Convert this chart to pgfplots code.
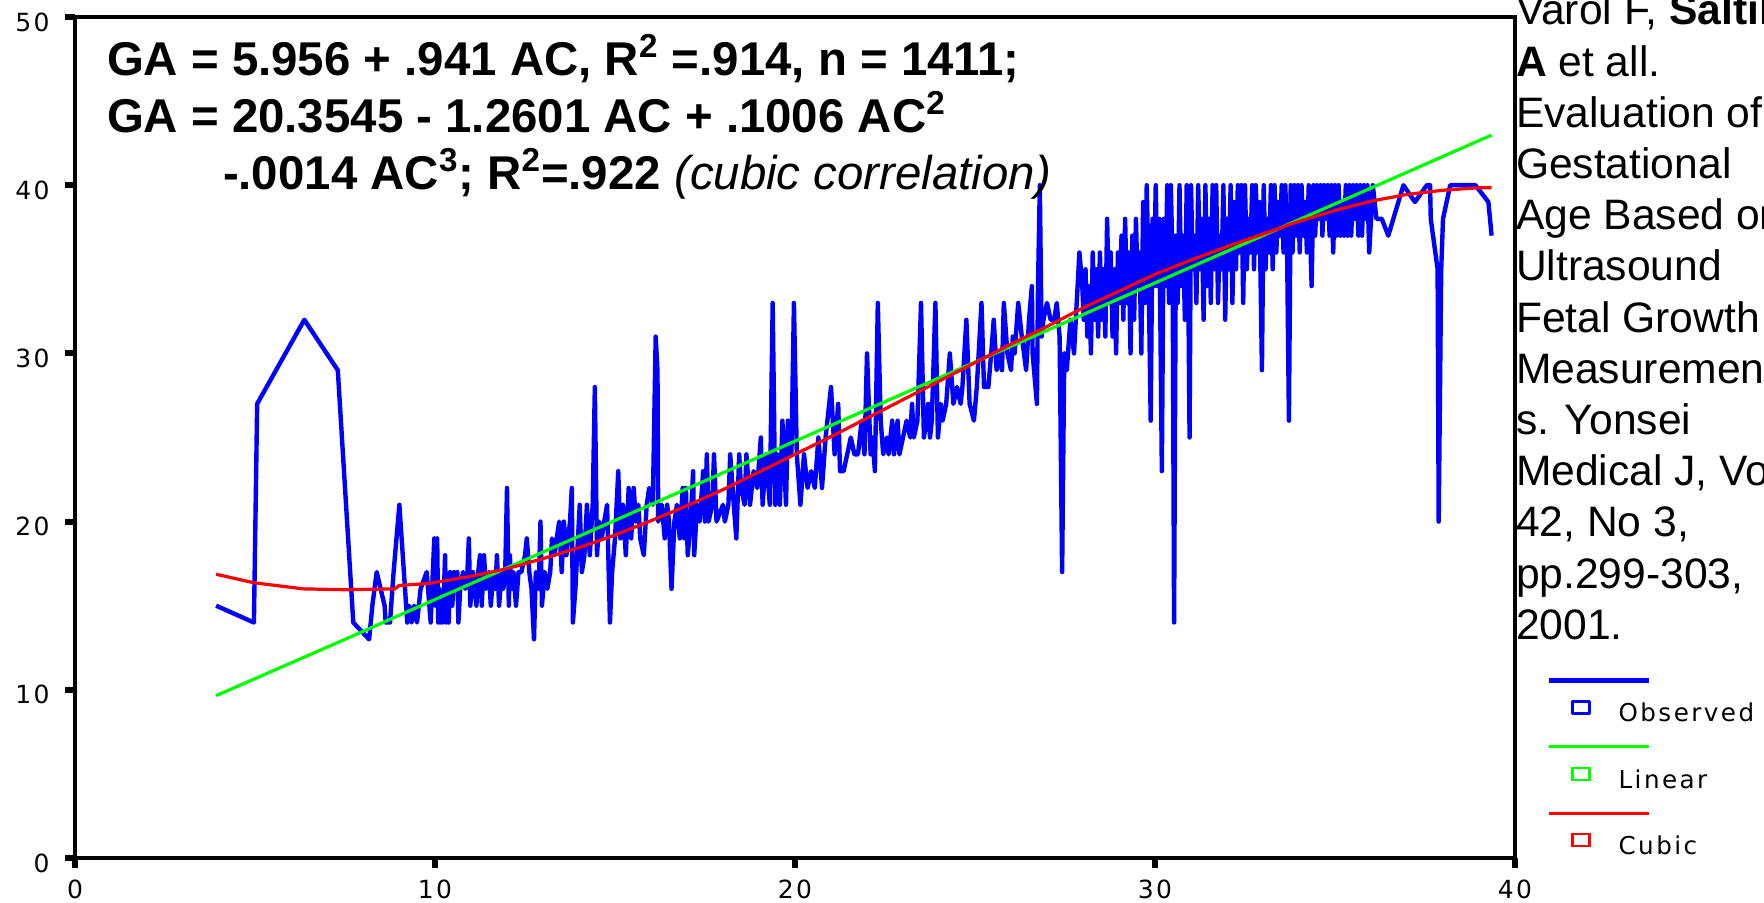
\documentclass[border=0pt]{standalone}
\usepackage{fontspec}
\setmainfont{Liberation Sans}
\newfontfamily\tickfont[LetterSpace=10]{DejaVu Sans}
\usepackage{pgfplots}
\pgfplotsset{compat=1.18}
\definecolor{obsblue}{RGB}{0,0,255}
\definecolor{lingreen}{RGB}{0,255,0}
\definecolor{cubred}{RGB}{255,0,0}
\begin{document}
\begin{tikzpicture}
\begin{axis}[
  name=ax, anchor=south west, at={(0pt,0pt)},
  scale only axis, width=720pt, height=420.5pt,
  xmin=0, xmax=40, ymin=0, ymax=50,
  xtick={0,10,20,30,40}, ytick={0,10,20,30,40,50},
  xtick pos=lower, ytick pos=left,
  axis line style={line width=1.6pt},
  tick align=outside, major tick length=5pt,
  tick style={line width=3pt, black},
  ticklabel style={font=\tickfont\fontsize{12.5}{13}\selectfont, inner sep=0pt},
  yticklabel style={yshift=-2.5pt, xshift=-7.5pt},
  xticklabel style={yshift=-6pt},
  /pgf/number format/assume math mode=true,
  legend cell align=left,
  legend style={at={(1.02361,0.2113)}, anchor=north west, draw=none, fill=none,
    inner sep=0pt, row sep=0pt, column sep=12pt,
    font=\tickfont\fontsize{12.3}{13}\selectfont},
  legend image code/.code={
    \draw[#1,overlay] (0pt,16.75pt) -- (50pt,16.75pt);
    \draw[#1,line width=1.2pt] (11.5pt,0.25pt) rectangle (20pt,6.25pt);
    \path[draw=none,fill=none] (0pt,-16.6pt) rectangle (20pt,16.6pt);
  },
]
\addplot[obsblue, line width=2.2pt, line join=round] coordinates {
(3.92,15) (4.97,14) (5.06,27) (6.37,32) (7.3,29) (7.73,14) (8.17,13) (8.26,15) (8.38,17) (8.6,15) (8.63,14) (8.75,14) (8.85,17) (9.01,21) (9.23,14) (9.28,15) (9.35,14) (9.42,15) (9.5,14) (9.6,16) (9.77,17) (9.88,14) (9.98,19)
(10.02,15) (10.06,19) (10.09,14) (10.12,16) (10.15,14) (10.18,15) (10.21,14) (10.25,16) (10.28,18) (10.31,14) (10.34,16) (10.38,14) (10.42,17) (10.48,15) (10.53,17) (10.58,16) (10.62,17) (10.65,14) (10.7,16) (10.78,17) (10.84,16) (10.9,17) (10.94,19) (10.98,15) (11.05,17) (11.1,16) (11.15,15) (11.2,17) (11.25,18) (11.3,15) (11.36,18) (11.42,16) (11.5,17) (11.55,15) (11.62,17) (11.68,16) (11.72,18) (11.78,15) (11.85,17) (11.9,16) (11.95,17) (12.0,22) (12.05,15) (12.08,18) (12.12,16) (12.18,17) (12.25,15) (12.32,17) (12.4,17) (12.5,18) (12.55,19) (12.62,17) (12.68,16) (12.75,13) (12.8,17) (12.88,16) (12.93,20) (12.97,15) (13.05,17) (13.12,16) (13.2,17) (13.25,19) (13.32,18) (13.38,19) (13.45,20) (13.52,17) (13.58,20) (13.65,18) (13.75,20) (13.8,22) (13.83,14) (13.9,16) (14.02,21) (14.08,17) (14.15,18) (14.22,21) (14.3,18) (14.38,21) (14.44,28) (14.5,18) (14.56,20) (14.63,19) (14.7,20) (14.78,21) (14.86,14) (14.92,17) (15.0,19) (15.09,23) (15.15,19) (15.22,21) (15.3,18) (15.38,22) (15.45,19) (15.52,22) (15.58,20) (15.65,21) (15.7,19) (15.8,18) (15.88,21) (15.95,22) (16.05,21) (16.13,31) (16.18,29)
(16.2,20) (16.3,21) (16.38,19) (16.45,21) (16.5,20) (16.57,16) (16.65,20) (16.72,21) (16.8,19) (16.88,22) (16.92,19) (16.97,22) (17.02,18) (17.1,20) (17.17,23) (17.2,18) (17.28,21) (17.35,20) (17.45,23) (17.5,20) (17.55,24) (17.6,20) (17.7,21) (17.75,24) (17.82,20) (18.0,21) (18.05,20) (18.15,21) (18.2,24) (18.3,21) (18.37,19) (18.45,24) (18.5,22) (18.6,21) (18.65,24) (18.75,21) (18.85,23) (18.95,22) (19.05,25) (19.1,21) (19.2,24) (19.3,21) (19.38,33) (19.45,21) (19.5,24) (19.58,21) (19.65,26) (19.75,21) (19.8,26) (19.9,24) (19.97,33) (20.05,24) (20.15,21) (20.25,24) (20.35,22) (20.45,23) (20.55,22) (20.65,25) (20.75,22) (20.85,25) (21.0,28) (21.1,24) (21.2,27) (21.25,23) (21.35,23) (21.45,24) (21.55,25) (21.65,24) (21.75,24) (21.85,26) (21.93,24) (22.0,30) (22.1,24) (22.15,25) (22.22,23) (22.3,33) (22.38,26)
(22.45,24) (22.55,25) (22.6,24) (22.7,26) (22.75,24) (22.85,26) (22.9,24) (23.0,25) (23.1,26) (23.2,25) (23.25,27) (23.3,25) (23.4,26) (23.5,33) (23.58,25) (23.65,26) (23.7,27) (23.75,25) (23.8,26) (23.9,33) (23.97,25) (24.05,27) (24.1,26) (24.2,27) (24.3,30) (24.4,27) (24.5,28) (24.6,27) (24.65,28) (24.76,32) (24.85,27) (24.97,26) (25.05,28) (25.18,33) (25.25,28) (25.37,28) (25.45,30) (25.52,32) (25.6,29) (25.7,30) (25.75,29) (25.8,33) (25.9,30) (26.0,29) (26.05,31) (26.1,30) (26.2,33) (26.3,31) (26.42,29) (26.5,32) (26.58,34) (26.6,30) (26.72,27) (26.75,34) (26.8,40) (26.85,31) (26.9,32) (27.0,33) (27.1,32) (27.2,32) (27.27,33) (27.35,31) (27.42,17) (27.48,30) (27.55,29) (27.65,32) (27.75,30) (27.9,36) (27.98,34)
(28.02,32) (28.07,35) (28.12,31) (28.17,34) (28.22,30) (28.27,36) (28.32,32) (28.37,35) (28.42,31) (28.47,36) (28.52,32) (28.57,35) (28.62,31) (28.67,38) (28.72,33) (28.77,36) (28.82,31) (28.87,35) (28.92,30) (28.97,36)
(29.02,33) (29.07,37) (29.12,32) (29.17,38) (29.22,33) (29.27,36) (29.32,30) (29.37,37) (29.42,32) (29.47,38) (29.52,34) (29.57,36) (29.62,30) (29.67,39) (29.72,33) (29.77,40) (29.82,35) (29.88,26) (29.93,38) (29.97,34)
(30.02,40) (30.07,34) (30.12,38) (30.19,23) (30.24,38) (30.29,34) (30.34,40) (30.39,33) (30.44,40) (30.49,35) (30.53,14) (30.58,37) (30.63,33) (30.68,40) (30.73,34) (30.78,37) (30.83,32) (30.88,40) (30.92,35) (30.96,25)
(31.0,40) (31.05,35) (31.1,37) (31.15,33) (31.2,40) (31.25,35) (31.3,38) (31.35,32) (31.4,40) (31.45,34) (31.5,38) (31.55,33) (31.6,40) (31.65,35) (31.7,40) (31.75,33) (31.8,37) (31.85,35) (31.9,40) (31.95,32)
(32.0,38) (32.05,35) (32.1,40) (32.15,33) (32.2,39) (32.25,35) (32.3,40) (32.35,36) (32.4,40) (32.45,33) (32.5,40) (32.55,35) (32.6,38) (32.65,36) (32.7,40) (32.75,35) (32.8,40) (32.85,36) (32.9,39) (32.97,29)
(33.02,40) (33.07,35) (33.12,38) (33.17,36) (33.22,40) (33.27,35) (33.32,40) (33.37,36) (33.42,39) (33.47,37) (33.52,40) (33.57,36) (33.62,40) (33.67,36) (33.72,26) (33.77,40)
(33.82,36) (33.87,40) (33.92,37) (33.97,40) (34.02,36) (34.07,40) (34.12,37) (34.17,39) (34.22,36) (34.27,40) (34.35,34) (34.4,40) (34.45,37) (34.5,40) (34.55,38) (34.6,40) (34.65,37) (34.7,40) (34.75,38) (34.8,40) (34.85,37) (34.9,40) (34.95,36) (35.0,40) (35.05,37) (35.1,40) (35.15,37) (35.2,39) (35.25,37) (35.3,40) (35.35,37) (35.4,40) (35.45,37) (35.5,40) (35.55,38) (35.6,40) (35.65,37) (35.7,40) (35.75,37) (35.8,40) (35.85,38) (35.9,40) (35.95,36) (36.05,40) (36.15,38) (36.3,38) (36.48,37) (36.9,40) (37.22,39) (37.55,40) (37.64,40) (37.66,38) (37.85,35) (37.88,20) (37.95,35) (38.0,38) (38.2,40) (38.9,40) (39.26,39) (39.35,37)
};
\addlegendentry{Observed}
\addplot[lingreen, line width=1.6pt] coordinates {
(3.92,9.65) (5.0,10.66) (7.5,13.0) (10.0,15.37) (15.0,20.07) (20.0,24.78) (25.0,29.48) (30.0,34.19) (35.0,38.89) (39.35,42.98)
};
\addlegendentry{Linear}
\addplot[cubred, line width=1.6pt] coordinates {
(3.92,16.87) (4.95,16.37) (6.34,16.0) (7.5,15.95) (8.89,16.0) (9.0,16.2) (9.86,16.33) (11,16.75) (12,17.2) (13,17.8) (14,18.45) (15,19.2) (16,20.05) (17,20.95) (18,21.9) (19,22.95) (20,24.0) (21,25.05) (22,26.15) (23,27.25) (24,28.35) (25,29.45) (26,30.55) (27,31.6) (28,32.7) (29,33.7) (30,34.7) (31,35.55) (32,36.35) (33,37.1) (34,37.85) (35,38.5) (36,39.05) (37,39.45) (38,39.7) (39,39.85) (39.35,39.85)
};
\addlegendentry{Cubic}
\end{axis}
\begin{scope}[every node/.style={inner sep=0pt, outer sep=0pt}]
\node[anchor=base west, font=\fontsize{23.7}{28}\selectfont\bfseries] at (16pt,391pt) {GA = 5.956 + .941 AC, R\textsuperscript{2} =.914, n = 1411;};
\node[anchor=base west, font=\fontsize{23.7}{28}\selectfont\bfseries] at (16pt,362.5pt) {GA = 20.3545 - 1.2601 AC + .1006 AC\textsuperscript{2}};
\node[anchor=base west, font=\fontsize{23.7}{28}\selectfont] at (74pt,334pt) {\textbf{-.0014 AC\textsuperscript{3}; R\textsuperscript{2}=.922} \textit{(cubic correlation)}};
\end{scope}
\begin{scope}[every node/.style={inner sep=0pt, outer sep=0pt, anchor=base west, font=\fontsize{21.3}{24}\selectfont}]
\node at (720.5pt,416.5pt) {Varol F, \textbf{Saltik}};
\node at (720.5pt,390.9pt) {\textbf{A} et all.};
\node at (720.5pt,365.3pt) {Evaluation of};
\node at (720.5pt,339.7pt) {Gestational};
\node at (720.5pt,314.1pt) {Age Based on};
\node at (720.5pt,288.5pt) {Ultrasound};
\node at (720.5pt,262.9pt) {Fetal Growth};
\node at (720.5pt,237.3pt) {Measurement};
\node at (720.5pt,211.7pt) {s. Yonsei};
\node at (720.5pt,186.1pt) {Medical J, Vol};
\node at (720.5pt,160.5pt) {42, No 3,};
\node at (720.5pt,134.9pt) {pp.299-303,};
\node at (720.5pt,109.3pt) {2001.};
\end{scope}
\pgfresetboundingbox
\path[use as bounding box] (-37.5pt,-22.5pt) rectangle (844.5pt,429pt);
\end{tikzpicture}
\end{document}
